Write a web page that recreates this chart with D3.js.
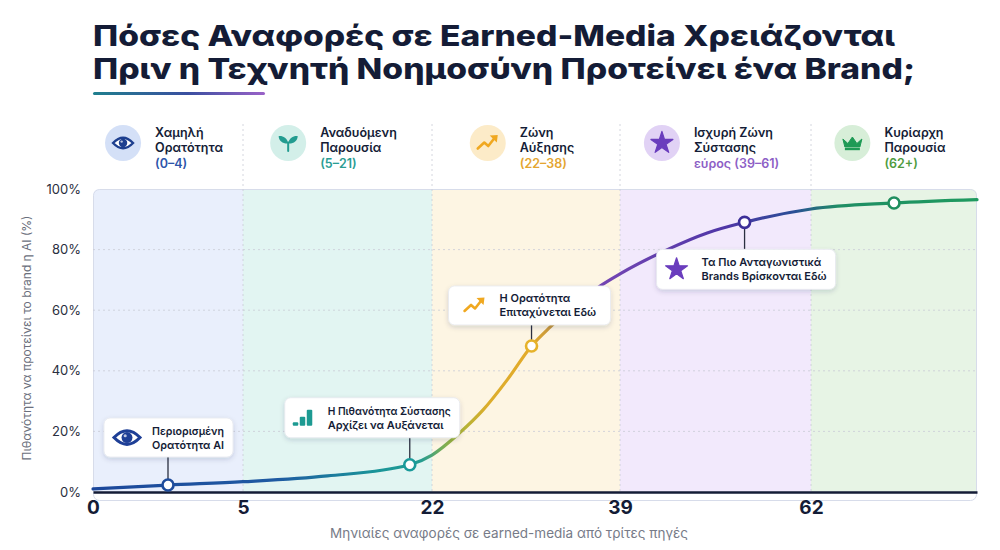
<!DOCTYPE html>
<html>
<head>
<meta charset="utf-8">
<script src="https://cdn.jsdelivr.net/npm/d3@7"></script>
<style>
  body { margin: 0; background: #fff; }
  svg { display: block; font-family: Inter, "Noto Sans", sans-serif; }
</style>
</head>
<body>
<div id="chart"></div>
<script>
// ---- data ----
const titleLines = [
  'Πόσες Αναφορές σε Earned-Media Χρειάζονται',
  'Πριν η Τεχνητή Νοημοσύνη Προτείνει ένα Brand;'
];
const zoneStarts = [0, 5, 22, 39, 62];
const zoneEnd = 80;
const zoneNames = [
  ['Χαμηλή', 'Ορατότητα'],
  ['Αναδυόμενη', 'Παρουσία'],
  ['Ζώνη', 'Αύξησης'],
  ['Ισχυρή Ζώνη', 'Σύστασης'],
  ['Κυρίαρχη', 'Παρουσία']
];
const zoneRanges = ['(0–4)', '(5–21)', '(22–38)', 'εύρος (39–61)', '(62+)'];
const zoneIcons = ['eye', 'sprout', 'trend', 'star', 'crown'];
const xTicks = [0, 5, 22, 39, 62];
const yTicks = [0, 20, 40, 60, 80, 100];

// S-curve (mentions → % chance)
const curveX = [0, 2.5, 5, 12.6, 20, 22, 24.5, 26.6, 28.8, 31, 32.7, 37.2, 39, 44.7, 49.5, 54, 62, 71, 80];
const curveY = [1, 2.3, 3.4, 5.3, 9, 12.2, 19.5, 27, 37, 48.2, 54.5, 68, 72, 80, 85.5, 89, 93.4, 95.4, 96.5];

// highlighted points
const markX = [2.5, 20, 31, 54, 71];
const markY = [2.3, 9, 48.2, 89, 95.4];

const noteLines = [
  ['Περιορισμένη', 'Ορατότητα AI'],
  ['Η Πιθανότητα Σύστασης', 'Αρχίζει να Αυξάνεται'],
  ['Η Ορατότητα', 'Επιταχύνεται Εδώ'],
  ['Τα Πιο Ανταγωνιστικά', 'Brands Βρίσκονται Εδώ']
];
const noteIcons = ['eye', 'bars', 'trend', 'star'];

const xLabel = 'Μηνιαίες αναφορές σε earned-media από τρίτες πηγές';
const yLabel = 'Πιθανότητα να προτείνει το brand η AI (%)';

// ---- style ----
const zoneFill   = ['#e9effc', '#e2f5f2', '#fdf5e3', '#f2e9fc', '#e7f4e5'];
const zoneIconBg = ['#d4e0f7', '#d3efe9', '#fcebc8', '#e1d2f5', '#d7eed8'];
const zoneAccent = ['#1d3f8f', '#239c90', '#f0a820', '#6a3dbd', '#1e9a55'];
const zoneRangeC = ['#2d55aa', '#2a9d94', '#e4a530', '#8d5fc6', '#4f9c3f'];
const markColor  = ['#1e4c9c', '#1a9a9a', '#e6b22a', '#3c2f98', '#1f8e5e'];
const noteColor  = ['#1e3f96', '#1d9a92', '#f0a820', '#6a3dbd'];
const ink = '#141c36';

const W = 1000, H = 550;
const plot = { left: 93, right: 977, top: 189, bottom: 492 };

const svg = d3.select('#chart').append('svg').attr('width', W).attr('height', H);
const defs = svg.append('defs');

const x = d3.scaleLinear()
  .domain([0, 5, 22, 39, 62, 80])
  .range([plot.left, 243, 432, 620, 811, plot.right]);
const y = d3.scaleLinear().domain([0, 100]).range([plot.bottom, plot.top]);

// shadow for callouts
const sh = defs.append('filter').attr('id', 'shadow').attr('x', '-20%').attr('y', '-30%')
  .attr('width', '140%').attr('height', '170%');
sh.append('feDropShadow').attr('dx', 0).attr('dy', 2).attr('stdDeviation', 2.5)
  .attr('flood-color', '#1b2550').attr('flood-opacity', 0.16);

// ---- title ----
const titleW = [802, 822];
titleLines.forEach((t, i) => {
  svg.append('text').attr('x', 93).attr('y', 46 + i * 33)
    .attr('font-size', 29).attr('font-weight', 800).attr('fill', ink)
    .attr('textLength', titleW[i]).attr('lengthAdjust', 'spacingAndGlyphs')
    .text(t);
});
const ug = defs.append('linearGradient').attr('id', 'underline');
ug.append('stop').attr('offset', '0%').attr('stop-color', '#1f7f8e');
ug.append('stop').attr('offset', '55%').attr('stop-color', '#3a4fa0');
ug.append('stop').attr('offset', '100%').attr('stop-color', '#9a62c8');
svg.append('rect').attr('x', 93).attr('y', 92).attr('width', 172).attr('height', 3)
  .attr('rx', 1.5).attr('fill', 'url(#underline)');

// ---- icons ----
function drawIcon(g, type, color, s) {
  if (type === 'eye') {
    g.append('path')
      .attr('d', `M${-s},0 Q0,${-s * 1.05} ${s},0 Q0,${s * 1.05} ${-s},0Z`)
      .attr('fill', '#fff').attr('stroke', color).attr('stroke-width', s * 0.24);
    g.append('circle').attr('r', s * 0.42).attr('fill', color);
    g.append('circle').attr('cx', -s * 0.14).attr('cy', -s * 0.14).attr('r', s * 0.12).attr('fill', '#fff').attr('opacity', 0.7);
  } else if (type === 'sprout') {
    g.append('path').attr('d', `M0,${s * 0.8} L0,${-s * 0.05}`)
      .attr('stroke', color).attr('stroke-width', s * 0.2).attr('stroke-linecap', 'round');
    g.append('path')
      .attr('d', `M0,${s * 0.05} C${-s * 0.1},${-s * 0.6} ${-s * 0.6},${-s * 0.75} ${-s * 0.95},${-s * 0.7} C${-s * 0.95},${-s * 0.2} ${-s * 0.5},${s * 0.1} 0,${s * 0.05}Z`)
      .attr('fill', color);
    g.append('path')
      .attr('d', `M0,${s * 0.05} C${s * 0.1},${-s * 0.6} ${s * 0.6},${-s * 0.75} ${s * 0.95},${-s * 0.7} C${s * 0.95},${-s * 0.2} ${s * 0.5},${s * 0.1} 0,${s * 0.05}Z`)
      .attr('fill', color);
  } else if (type === 'trend') {
    g.append('path')
      .attr('d', `M${-s},${s * 0.55} L${-s * 0.35},${-s * 0.05} L${s * 0.05},${s * 0.3} L${s * 0.6},${-s * 0.4}`)
      .attr('fill', 'none').attr('stroke', color).attr('stroke-width', s * 0.26)
      .attr('stroke-linecap', 'round').attr('stroke-linejoin', 'round');
    g.append('path')
      .attr('d', `M${s * 0.2},${-s * 0.75} L${s},${-s * 0.8} L${s * 0.9},${-s * 0.05}Z`)
      .attr('fill', color);
  } else if (type === 'star') {
    g.append('path').attr('d', d3.symbol(d3.symbolStar, s * s * 1.5)())
      .attr('fill', color).attr('stroke', color).attr('stroke-width', s * 0.12).attr('stroke-linejoin', 'round');
  } else if (type === 'crown') {
    g.append('path')
      .attr('d', `M${-s * 0.95},${-s * 0.4} L${-s * 0.45},${s * 0.05} L0,${-s * 0.6} L${s * 0.45},${s * 0.05} L${s * 0.95},${-s * 0.4} L${s * 0.75},${s * 0.4} L${-s * 0.75},${s * 0.4}Z`)
      .attr('fill', color).attr('stroke', color).attr('stroke-width', s * 0.1).attr('stroke-linejoin', 'round');
    g.append('rect').attr('x', -s * 0.75).attr('y', s * 0.5).attr('width', s * 1.5).attr('height', s * 0.22).attr('fill', color);
  } else if (type === 'bars') {
    [[-s, s * 0.35], [-s * 0.3, s * 0.9], [s * 0.4, s * 1.6]].forEach(([bx, bh]) => {
      g.append('rect').attr('x', bx).attr('y', s * 0.8 - bh).attr('width', s * 0.55)
        .attr('height', bh).attr('rx', 1).attr('fill', color);
    });
  }
}

// ---- plot background zones ----
const zoneEnds = zoneStarts.slice(1).concat(zoneEnd);
const clip = defs.append('clipPath').attr('id', 'plotclip');
clip.append('rect').attr('x', plot.left).attr('y', plot.top)
  .attr('width', plot.right - plot.left).attr('height', plot.bottom - plot.top + 10).attr('rx', 6);

const bg = svg.append('g').attr('clip-path', 'url(#plotclip)');
bg.selectAll('rect.zone').data(zoneStarts).join('rect')
  .attr('class', 'zone')
  .attr('x', d => x(d)).attr('y', plot.top)
  .attr('width', (d, i) => x(zoneEnds[i]) - x(d))
  .attr('height', plot.bottom - plot.top)
  .attr('fill', (d, i) => zoneFill[i]);
svg.append('rect').attr('x', plot.left + 0.5).attr('y', plot.top + 0.5)
  .attr('width', plot.right - plot.left - 1).attr('height', plot.bottom - plot.top + 8)
  .attr('rx', 6).attr('fill', 'none').attr('stroke', '#d7dcea').attr('stroke-width', 1)
  .attr('clip-path', 'url(#plotclip)');

// horizontal dotted grid
svg.append('g').selectAll('line').data(yTicks.filter(t => t > 0 && t < 100)).join('line')
  .attr('x1', plot.left).attr('x2', plot.right)
  .attr('y1', d => y(d)).attr('y2', d => y(d))
  .attr('stroke', '#c9ccd6').attr('stroke-width', 0.8).attr('stroke-dasharray', '2,3');

// vertical zone dividers, reaching into the header strip
svg.append('g').selectAll('line').data(zoneStarts.slice(1)).join('line')
  .attr('x1', d => x(d)).attr('x2', d => x(d))
  .attr('y1', 124).attr('y2', plot.bottom)
  .attr('stroke', '#c9ccd6').attr('stroke-width', 0.8).attr('stroke-dasharray', '2,3');

// ---- zone headers ----
zoneStarts.forEach((z, i) => {
  const g = svg.append('g');
  const tx = 32;
  const lines = zoneNames[i].concat(zoneRanges[i]);
  const texts = lines.map((t, j) => g.append('text')
    .attr('x', tx).attr('y', 137 + j * 15 + (j === 2 ? 1 : 0))
    .attr('font-size', 12.5).attr('font-weight', 600)
    .attr('fill', j === 2 ? zoneRangeC[i] : ink).text(t));
  const tw = d3.max(texts, t => t.node().getComputedTextLength());
  g.append('circle').attr('cx', 0).attr('cy', 143).attr('r', 18).attr('fill', zoneIconBg[i]);
  drawIcon(g.append('g').attr('transform', 'translate(0,143)'), zoneIcons[i], zoneAccent[i], 10);
  const blockW = 18 + tx + tw;
  const cx = (x(z) + x(zoneEnds[i])) / 2;
  g.attr('transform', `translate(${cx - blockW / 2 + 18 - 4},0)`);
});

// ---- axes ----
const yAxis = svg.append('g').attr('transform', `translate(${plot.left - 9},0)`)
  .call(d3.axisLeft(y).tickValues(yTicks).tickSize(0).tickFormat(d => d + '%'));
yAxis.select('.domain').remove();
yAxis.selectAll('text').attr('font-size', 13).attr('fill', '#2a2f40')
  .attr('font-family', 'Inter, "Noto Sans", sans-serif');

const xAxis = svg.append('g').attr('transform', `translate(0,${plot.bottom})`)
  .call(d3.axisBottom(x).tickValues(xTicks).tickSize(0).tickPadding(9).tickFormat(d3.format('d')));
xAxis.select('.domain').attr('stroke', ink).attr('stroke-width', 2.5);
xAxis.selectAll('text').attr('font-size', 19).attr('font-weight', 700).attr('fill', ink)
  .attr('font-family', 'Inter, "Noto Sans", sans-serif');

svg.append('text').attr('x', 509).attr('y', 538).attr('text-anchor', 'middle')
  .attr('font-size', 13.5).attr('fill', '#777b88').text(xLabel);
svg.append('text').attr('transform', 'rotate(-90)')
  .attr('x', -338).attr('y', 31).attr('text-anchor', 'middle')
  .attr('font-size', 12).attr('fill', '#6b6f7c').text(yLabel);

// ---- curve ----
const cg = defs.append('linearGradient').attr('id', 'curvegrad')
  .attr('gradientUnits', 'userSpaceOnUse')
  .attr('x1', plot.left).attr('x2', plot.right).attr('y1', 0).attr('y2', 0);
[[0, '#1c479a'], [8, '#1e5aa2'], [17, '#1a9599'], [21, '#239c92'],
 [24, '#a3b53a'], [27, '#dcad2c'], [31, '#e3aa2a'], [34, '#b08a50'],
 [37, '#7546b4'], [52, '#4e36a6'], [60, '#2a4f96'], [65, '#1f8e64'], [80, '#1f9a5f']]
  .forEach(([v, c]) => {
    cg.append('stop').attr('offset', ((x(v) - plot.left) / (plot.right - plot.left) * 100) + '%')
      .attr('stop-color', c);
  });

const line = d3.line().x(d => x(d[0])).y(d => y(d[1])).curve(d3.curveMonotoneX);
svg.append('path').datum(d3.zip(curveX, curveY))
  .attr('d', line).attr('fill', 'none')
  .attr('stroke', 'url(#curvegrad)').attr('stroke-width', 3.2).attr('stroke-linecap', 'round');

// ---- callouts ----
const noteBox = [
  { dx: -64, dy: -67, w: 129, h: 39, tx: 48 },
  { dx: -125, dy: -67, w: 175, h: 40, tx: 43 },
  { dx: -83, dy: -60, w: 162, h: 39, tx: 51 },
  { dx: -88, dy: 27, w: 179, h: 40, tx: 45 }
];
noteLines.forEach((lines, i) => {
  const mx = x(markX[i]), my = y(markY[i]);
  const b = noteBox[i];
  const bx = mx + b.dx, by = my + b.dy;
  const below = b.dy > 0;
  svg.append('line').attr('x1', mx).attr('x2', mx)
    .attr('y1', below ? my + 6 : my - 6).attr('y2', below ? by : by + b.h)
    .attr('stroke', '#2a2f40').attr('stroke-width', 1.3);
  const g = svg.append('g').attr('transform', `translate(${bx},${by})`);
  g.append('rect').attr('width', b.w).attr('height', b.h).attr('rx', 6)
    .attr('fill', '#fff').attr('stroke', '#e6e8ef').attr('stroke-width', 0.8)
    .attr('filter', 'url(#shadow)');
  drawIcon(g.append('g').attr('transform', `translate(${b.tx - 25},${b.h / 2})`),
    noteIcons[i], noteColor[i], noteIcons[i] === 'eye' ? 13 : 10);
  lines.forEach((t, j) => {
    const tEl = g.append('text').attr('x', b.tx).attr('y', b.h / 2 - 3 + j * 14)
      .attr('font-size', 11).attr('font-weight', 600).attr('fill', ink).text(t);
    const room = b.w - b.tx - 9;
    if (tEl.node().getComputedTextLength() > room) {
      tEl.attr('textLength', room).attr('lengthAdjust', 'spacingAndGlyphs');
    }
  });
});

// ---- markers ----
svg.append('g').selectAll('circle').data(markX).join('circle')
  .attr('cx', d => x(d)).attr('cy', (d, i) => y(markY[i]))
  .attr('r', 5.5).attr('fill', '#fff')
  .attr('stroke', (d, i) => markColor[i]).attr('stroke-width', 2.6);
</script>
</body>
</html>
